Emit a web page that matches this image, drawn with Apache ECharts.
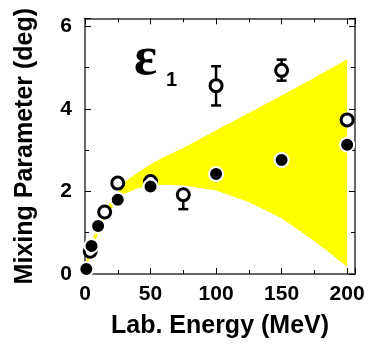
<!DOCTYPE html>
<html><head><meta charset="utf-8">
<script src="https://cdn.jsdelivr.net/npm/echarts@6/dist/echarts.min.js"></script>
<style>html,body{margin:0;padding:0;background:#fff}#c{width:370px;height:344px}</style>
</head><body><div id="c"></div>
<script>
// Filled circles
const filledX = [1, 5, 10, 25, 50, 100, 150, 200];
const filledY = [0.12, 0.68, 1.16, 1.80, 2.12, 2.42, 2.76, 3.13];
// Open circles with error bars
const openX = [4, 15, 25, 50, 75, 100, 150, 200];
const openY = [0.55, 1.50, 2.20, 2.24, 1.92, 4.56, 4.93, 3.73];
const openLow = [0.55, 1.50, 2.12, 2.20, 1.57, 4.08, 4.68, 3.68];
const openHigh = [0.55, 1.50, 2.30, 2.28, 1.92, 5.03, 5.19, 3.78];
// Yellow band
const bandX = [1, 5, 10, 15, 20, 25, 30, 40, 50, 60, 75, 100, 125, 150, 175, 200];
const bandLow = [0.12, 0.52, 0.98, 1.33, 1.58, 1.78, 1.94, 2.07, 2.15, 2.16, 2.14, 2.02, 1.74, 1.35, 0.80, 0.18];
const bandHigh = [0.32, 0.78, 1.17, 1.50, 1.76, 1.98, 2.22, 2.45, 2.65, 2.83, 3.05, 3.48, 3.90, 4.32, 4.75, 5.20];
const xTickLabels = [0, 50, 100, 150, 200];
const yTickLabels = [0, 2, 4, 6];

const chart = echarts.init(document.getElementById('c'), null, {renderer: 'canvas'});
const FONT = 'Liberation Sans, Arial, Helvetica, sans-serif';
const frameColor = '#333';

const baseAxis = {
  type: 'value',
  splitLine: {show: false},
  axisLine: {show: true, onZero: false, lineStyle: {color: frameColor, width: 1.5}},
  axisTick: {show: true, inside: true, length: 6, lineStyle: {color: '#000', width: 1}},
  minorTick: {show: true, splitNumber: 2, length: 4, lineStyle: {color: '#000', width: 1}},
  minorSplitLine: {show: false}
};

const option = {
  animation: false,
  backgroundColor: '#fff',
  grid: {left: 85, right: 15, top: 18.3, bottom: 68.3, containLabel: false},
  xAxis: [
    Object.assign({}, baseAxis, {
      min: 0, max: 206, interval: 50, position: 'bottom',
      axisLabel: {
        show: true, margin: 10, fontSize: 21, fontWeight: 'bold', color: '#000', fontFamily: FONT,
        showMaxLabel: false,
        formatter: v => xTickLabels.includes(v) ? String(v) : ''
      },
      name: 'Lab. Energy (MeV)', nameLocation: 'middle', nameGap: 40,
      nameTextStyle: {fontSize: 25, fontWeight: 'bold', color: '#000', fontFamily: FONT}
    }),
    Object.assign({}, baseAxis, {
      min: 0, max: 206, interval: 50, position: 'top',
      axisLabel: {show: false}
    })
  ],
  yAxis: [
    Object.assign({}, baseAxis, {
      min: 0, max: 6.19, interval: 2, position: 'left',
      axisLabel: {
        show: true, margin: 13, fontSize: 21, fontWeight: 'bold', color: '#000', fontFamily: FONT,
        showMaxLabel: false,
        formatter: v => yTickLabels.includes(v) ? String(v) : ''
      },
      name: 'Mixing Parameter (deg)', nameLocation: 'middle', nameGap: 47,
      nameTextStyle: {fontSize: 25, fontWeight: 'bold', color: '#000', fontFamily: FONT}
    }),
    Object.assign({}, baseAxis, {
      min: 0, max: 6.19, interval: 2, position: 'right',
      axisLabel: {show: false}
    })
  ],
  graphic: [
    {type: 'text', left: 134, top: 33, z: 10,
     style: {text: 'ε', fontSize: 54, fontWeight: 'bold', fontFamily: 'Liberation Serif, Times New Roman, serif', fill: '#000'}},
    {type: 'text', left: 166, top: 70, z: 10,
     style: {text: '1', fontSize: 20, fontWeight: 'bold', fontFamily: FONT, fill: '#000'}}
  ],
  series: [
    {
      type: 'custom', z: 1, silent: true,
      data: [[bandX[0], bandLow[0]]],
      encode: {x: 0, y: 1},
      renderItem: function (params, api) {
        const pts = [];
        for (let i = 0; i < bandX.length; i++) pts.push(api.coord([bandX[i], bandHigh[i]]));
        for (let i = bandX.length - 1; i >= 0; i--) pts.push(api.coord([bandX[i], bandLow[i]]));
        return {type: 'polygon', shape: {points: pts}, style: {fill: '#ffff00', stroke: null}};
      }
    },
    {
      type: 'custom', z: 2, silent: true,
      data: openX.map((x, i) => [x, openLow[i], openHigh[i]]),
      encode: {x: 0, y: [1, 2]},
      renderItem: function (params, api) {
        const x = api.value(0);
        const lo = api.coord([x, api.value(1)]);
        const hi = api.coord([x, api.value(2)]);
        if (Math.abs(lo[1] - hi[1]) < 1) return {type: 'group', children: []};
        const w = 5;
        const st = {stroke: '#000', lineWidth: 2.5};
        return {type: 'group', children: [
          {type: 'line', shape: {x1: lo[0], y1: lo[1], x2: hi[0], y2: hi[1]}, style: st},
          {type: 'line', shape: {x1: lo[0] - w, y1: lo[1], x2: lo[0] + w, y2: lo[1]}, style: st},
          {type: 'line', shape: {x1: hi[0] - w, y1: hi[1], x2: hi[0] + w, y2: hi[1]}, style: st}
        ]};
      }
    },
    {
      type: 'scatter', z: 3, silent: true,
      data: openX.map((x, i) => [x, openY[i]]),
      symbol: 'circle', symbolSize: 12,
      itemStyle: {color: '#fff', borderColor: '#000', borderWidth: 3, opacity: 1}
    },
    {
      type: 'scatter', z: 4, silent: true,
      data: filledX.map((x, i) => [x, filledY[i]]),
      symbol: 'circle', symbolSize: 14,
      itemStyle: {color: '#000', borderColor: '#fff', borderWidth: 2, opacity: 1}
    }
  ]
};
chart.setOption(option);
</script>
</body></html>
